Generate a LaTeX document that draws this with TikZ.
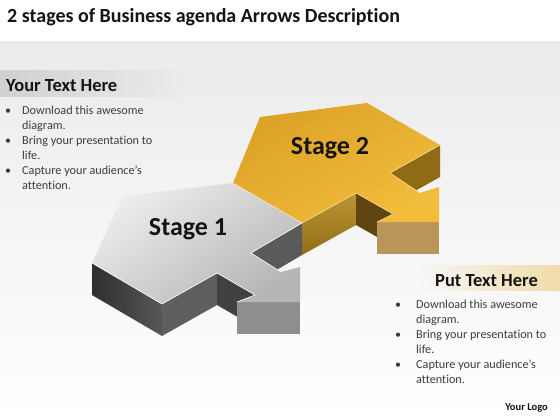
\documentclass[tikz,border=0pt]{standalone}
\usepackage{fontspec}
\setmainfont{Carlito}[Ligatures={TeX,NoCommon}]
\usepackage{xcolor}
\usetikzlibrary{calc,fadings}

\definecolor{inkblack}{HTML}{141414}
\definecolor{listgray}{HTML}{3C3C3C}
\definecolor{bgtop}{HTML}{EBEBEB}
\definecolor{bandtan}{HTML}{F1DBAA}
\definecolor{goldlight}{HTML}{F2BC3C}
\definecolor{golddeep}{HTML}{DCA226}
\definecolor{goldside}{HTML}{B48A1C}
\definecolor{goldnotch}{HTML}{5E4511}
\definecolor{goldinner}{HTML}{8E6B14}
\definecolor{goldfront}{HTML}{B9955A}
\definecolor{graylight}{HTML}{EDEDED}
\definecolor{graydeep}{HTML}{B6B6B6}
\definecolor{grayleft}{HTML}{3A3A3A}
\definecolor{grayside}{HTML}{5E5E5E}
\definecolor{graynotch}{HTML}{414141}
\definecolor{grayinner}{HTML}{5A5A5A}
\definecolor{grayfront}{HTML}{8E8E8E}

\begin{document}
\begin{tikzpicture}[x=1pt, y=-1pt,
        heading/.style={anchor=base west, inner sep=0pt, text=inkblack,
            font=\bfseries\fontsize{18.5}{22}\selectfont},
        listtext/.style={anchor=base west, inner sep=0pt, text=listgray,
            font=\fontsize{12.2}{14}\selectfont},
        bulletmark/.style={anchor=base west, inner sep=0pt, text=listgray,
            font=\fontsize{12}{14}\selectfont},
        stagelabel/.style={inner sep=0pt, text=inkblack,
            font=\bfseries\fontsize{26}{30}\selectfont},
        rim/.style={draw=white, line width=0.6pt, line join=round}]
    \useasboundingbox (0,0) rectangle (560,420);

    % background
    \fill[white] (0,0) rectangle (560,420);
    \shade[top color=bgtop, bottom color=white] (0,42) rectangle (560,420);

    \node[anchor=base west, inner sep=0pt, text=inkblack,
          font=\bfseries\fontsize{20}{24}\selectfont] (title) at (7,23)
          {2 stages of Business agenda Arrows Description};

    % left text box
    \fill[black!18, path fading=east] (0,70) rectangle (190,97);
    \node[heading] (lefthead) at (6,91.5) {Your Text Here};
    \foreach \txt [count=\i from 0] in {Download this awesome, diagram.,
            Bring your presentation to, life., Capture your audience’s, attention.}
        \node[listtext] (left\i) at (22,114+15*\i) {\txt};
    \foreach \i in {0,2,4}
        \node[bulletmark] (leftdot\i) at (5,114+15*\i) {\textbullet};

    % right text box
    \fill[bandtan, path fading=west] (420,265) rectangle (560,291);
    \node[heading] (righthead) at (435,286) {Put Text Here};
    \foreach \txt [count=\i from 0] in {Download this awesome, diagram.,
            Bring your presentation to, life., Capture your audience’s, attention.}
        \node[listtext] (right\i) at (416,308+15*\i) {\txt};
    \foreach \i in {0,2,4}
        \node[bulletmark] (rightdot\i) at (395,308+15*\i) {\textbullet};

    \node[anchor=base east, inner sep=0pt, text=inkblack,
          font=\bfseries\fontsize{10.5}{12}\selectfont] (logo) at (548,410) {Your Logo};

    % stage 2 block (behind)
    \coordinate (twoL)  at (233,183);
    \coordinate (twoTL) at (260,117);
    \coordinate (twoTR) at (367,103);
    \coordinate (twoR)  at (440,145);
    \coordinate (twoN1) at (390,173);
    \coordinate (twoS1) at (420,193);
    \coordinate (twoB1) at (439,187);
    \coordinate (twoT)  at (439,222);
    \coordinate (twoB2) at (377,222);
    \coordinate (twoS2) at (393,214);
    \coordinate (twoN2) at (356,193);
    \coordinate (twoB)  at (302,223);

    \shade[top color=goldside!90!white, bottom color=goldside!80!black]
        (twoB) -- (twoN2) -- ($(twoN2)+(0,32)$) -- ($(twoB)+(0,32)$) -- cycle;
    \fill[goldnotch] (twoN2) -- (twoS2) -- ($(twoS2)+(0,32)$) -- ($(twoN2)+(0,32)$) -- cycle;
    \fill[goldinner] (twoR) -- (twoN1) -- ($(twoN1)+(0,32)$) -- ($(twoR)+(0,32)$) -- cycle;
    \fill[goldfront] (twoB2) -- (twoT) -- ($(twoT)+(0,32)$) -- ($(twoB2)+(0,32)$) -- cycle;
    \shade[top color=golddeep, bottom color=goldlight, shading angle=30]
        (twoL) -- (twoTL) -- (twoTR) -- (twoR) -- (twoN1) -- (twoS1) -- (twoB1)
        -- (twoT) -- (twoB2) -- (twoS2) -- (twoN2) -- (twoB) -- cycle;
    \draw[rim, draw=goldlight!50!white] (twoR) -- (twoN1) -- (twoS1) (twoB2) -- (twoS2) -- (twoN2) -- (twoB);

    % stage 1 block (front)
    \coordinate (oneL)  at (92,263);
    \coordinate (oneTL) at (123,196);
    \coordinate (oneTR) at (233,183);
    \coordinate (oneR)  at (302,223);
    \coordinate (oneN1) at (251,253);
    \coordinate (oneS1) at (281,272);
    \coordinate (oneB1) at (300,267);
    \coordinate (oneT)  at (300,302);
    \coordinate (oneB2) at (237,302);
    \coordinate (oneS2) at (255,295);
    \coordinate (oneN2) at (217,273);
    \coordinate (oneB)  at (162,304);

    \shade[left color=grayleft!80!black, right color=grayleft!85!white]
        (oneL) -- (oneB) -- ($(oneB)+(0,32)$) -- ($(oneL)+(0,32)$) -- cycle;
    \fill[grayside] (oneB) -- (oneN2) -- ($(oneN2)+(0,32)$) -- ($(oneB)+(0,32)$) -- cycle;
    \fill[graynotch] (oneN2) -- (oneS2) -- ($(oneS2)+(0,32)$) -- ($(oneN2)+(0,32)$) -- cycle;
    \fill[grayinner] (oneR) -- (oneN1) -- ($(oneN1)+(0,32)$) -- ($(oneR)+(0,32)$) -- cycle;
    \fill[grayfront] (oneB2) -- (oneT) -- ($(oneT)+(0,32)$) -- ($(oneB2)+(0,32)$) -- cycle;
    \shade[top color=graylight, bottom color=graydeep, shading angle=35]
        (oneL) -- (oneTL) -- (oneTR) -- (oneR) -- (oneN1) -- (oneS1) -- (oneB1)
        -- (oneT) -- (oneB2) -- (oneS2) -- (oneN2) -- (oneB) -- cycle;
    \draw[rim] (oneL) -- (oneB) -- (oneN2) -- (oneS2) -- (oneB2) (oneR) -- (oneN1) -- (oneS1);
    \draw[rim, draw=goldlight!40!white] (oneTR) -- (oneR);

    \node[stagelabel] (stageone) at (188,229) {Stage 1};
    \node[stagelabel] (stagetwo) at (330,148) {Stage 2};
\end{tikzpicture}
\end{document}
